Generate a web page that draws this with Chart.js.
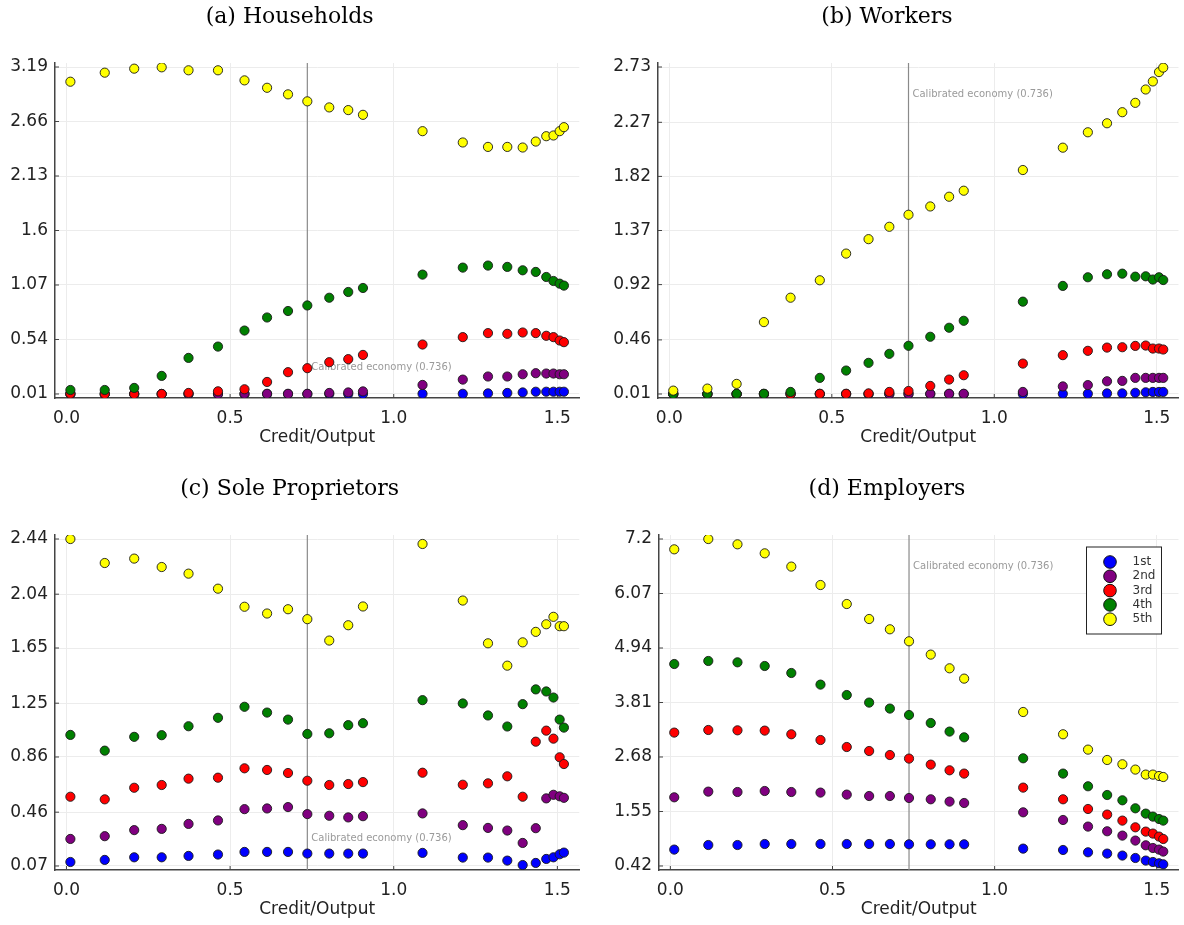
<!DOCTYPE html>
<html>
<head>
<meta charset="utf-8">
<title>Credit/Output by quintile</title>
<script src="https://cdn.jsdelivr.net/npm/chart.js"></script>
<style>
  html, body { margin: 0; padding: 0; background: #fff; overflow: hidden; }
  .panel { position: absolute; width: 592px; height: 462px; }
</style>
</head>
<body>
<div class="panel" style="left:0;top:0"><canvas id="hh" width="592" height="462"></canvas></div>
<div class="panel" style="left:592px;top:0"><canvas id="wk" width="592" height="462"></canvas></div>
<div class="panel" style="left:0;top:472px"><canvas id="sp" width="592" height="462"></canvas></div>
<div class="panel" style="left:592px;top:472px"><canvas id="em" width="592" height="462"></canvas></div>
<script>
// shared x values (credit/output ratio of each simulated economy)
const creditOutput = [0.012, 0.117, 0.207, 0.291, 0.373, 0.463, 0.544, 0.613, 0.677, 0.736, 0.803, 0.861, 0.906,
    1.088, 1.211, 1.288, 1.347, 1.394, 1.434, 1.466, 1.488, 1.507, 1.520];
const quintiles = ['1st', '2nd', '3rd', '4th', '5th'];
const colors = ['#0000ff', '#800080', '#ff0000', '#008000', '#ffff00'];
const calibrated = 0.736;
const xTicks = [0, 0.5, 1.0, 1.5];

// (a) Households
const hh1 = [0.010, 0.010, 0.010, 0.010, 0.010, 0.010, 0.010, 0.010, 0.010, 0.010, 0.010, 0.010, 0.010,
    0.012, 0.012, 0.016, 0.020, 0.025, 0.032, 0.032, 0.032, 0.032, 0.032];
const hh2 = [0.010, 0.010, 0.010, 0.010, 0.010, 0.010, 0.012, 0.012, 0.012, 0.012, 0.020, 0.025, 0.035,
    0.098, 0.150, 0.180, 0.180, 0.202, 0.212, 0.209, 0.209, 0.202, 0.202];
const hh3 = [0.013, 0.010, 0.010, 0.010, 0.020, 0.036, 0.056, 0.127, 0.222, 0.261, 0.319, 0.349, 0.390,
    0.491, 0.563, 0.602, 0.595, 0.608, 0.602, 0.576, 0.563, 0.530, 0.514];
const hh4 = [0.049, 0.049, 0.069, 0.186, 0.361, 0.471, 0.627, 0.754, 0.817, 0.871, 0.946, 1.002, 1.041,
    1.171, 1.239, 1.259, 1.246, 1.213, 1.197, 1.148, 1.109, 1.083, 1.064];
const hh5 = [3.047, 3.135, 3.174, 3.187, 3.158, 3.158, 3.060, 2.988, 2.924, 2.856, 2.797, 2.771, 2.725,
    2.566, 2.456, 2.413, 2.413, 2.407, 2.465, 2.517, 2.524, 2.566, 2.605];
const hhTicks = [0.01, 0.54, 1.07, 1.6, 2.13, 2.66, 3.19];

// (b) Workers
const wk1 = [0.010, 0.010, 0.010, 0.010, 0.010, 0.010, 0.010, 0.010, 0.010, 0.010, 0.010, 0.010, 0.010,
    0.010, 0.012, 0.012, 0.015, 0.015, 0.020, 0.024, 0.027, 0.027, 0.027];
const wk2 = [0.010, 0.010, 0.010, 0.010, 0.010, 0.010, 0.010, 0.010, 0.010, 0.012, 0.012, 0.012, 0.012,
    0.027, 0.073, 0.084, 0.116, 0.119, 0.144, 0.144, 0.144, 0.144, 0.144];
const wk3 = [0.010, 0.010, 0.010, 0.010, 0.010, 0.012, 0.012, 0.015, 0.027, 0.035, 0.077, 0.130, 0.166,
    0.263, 0.333, 0.369, 0.396, 0.399, 0.410, 0.413, 0.388, 0.388, 0.380];
const wk4 = [0.010, 0.012, 0.012, 0.012, 0.027, 0.144, 0.205, 0.269, 0.344, 0.411, 0.486, 0.561, 0.619,
    0.778, 0.909, 0.981, 1.006, 1.011, 0.986, 0.989, 0.962, 0.981, 0.958];
const wk5 = [0.038, 0.055, 0.094, 0.608, 0.811, 0.956, 1.178, 1.298, 1.401, 1.501, 1.570, 1.651, 1.701,
    1.873, 2.059, 2.187, 2.262, 2.354, 2.432, 2.543, 2.610, 2.688, 2.725];
const wkTicks = [0.01, 0.46, 0.92, 1.37, 1.82, 2.27, 2.73];

// (c) Sole Proprietors
const sp1 = [0.099, 0.114, 0.133, 0.133, 0.143, 0.153, 0.172, 0.172, 0.172, 0.160, 0.160, 0.160, 0.160,
    0.165, 0.131, 0.131, 0.109, 0.077, 0.092, 0.121, 0.133, 0.155, 0.167];
const sp2 = [0.266, 0.286, 0.330, 0.339, 0.375, 0.400, 0.482, 0.487, 0.497, 0.446, 0.434, 0.422, 0.431,
    0.451, 0.366, 0.346, 0.327, 0.237, 0.344, 0.560, 0.586, 0.575, 0.564];
const sp3 = [0.572, 0.553, 0.637, 0.657, 0.703, 0.710, 0.778, 0.766, 0.744, 0.688, 0.657, 0.664, 0.678,
    0.746, 0.659, 0.669, 0.720, 0.572, 0.971, 1.051, 0.993, 0.858, 0.809];
const sp4 = [1.020, 0.906, 1.006, 1.018, 1.083, 1.144, 1.224, 1.182, 1.131, 1.027, 1.032, 1.091, 1.105,
    1.272, 1.248, 1.161, 1.081, 1.243, 1.350, 1.335, 1.291, 1.131, 1.073];
const sp5 = [2.440, 2.266, 2.298, 2.237, 2.189, 2.080, 1.949, 1.900, 1.931, 1.859, 1.704, 1.815, 1.951,
    2.404, 1.994, 1.684, 1.522, 1.691, 1.767, 1.822, 1.876, 1.808, 1.808];
const spTicks = [0.07, 0.46, 0.86, 1.25, 1.65, 2.04, 2.44];

// (d) Employers
const em1 = [0.760, 0.855, 0.855, 0.876, 0.876, 0.876, 0.876, 0.876, 0.876, 0.870, 0.870, 0.870, 0.870,
    0.780, 0.752, 0.704, 0.677, 0.636, 0.586, 0.532, 0.503, 0.476, 0.455];
const em2 = [1.844, 1.962, 1.954, 1.975, 1.954, 1.942, 1.900, 1.871, 1.871, 1.830, 1.803, 1.755, 1.726,
    1.533, 1.374, 1.237, 1.140, 1.050, 0.947, 0.849, 0.793, 0.760, 0.719];
const em3 = [3.186, 3.240, 3.233, 3.227, 3.151, 3.032, 2.887, 2.804, 2.721, 2.647, 2.522, 2.404, 2.336,
    2.045, 1.803, 1.602, 1.486, 1.361, 1.222, 1.133, 1.092, 1.030, 0.980];
const em4 = [4.608, 4.671, 4.643, 4.567, 4.422, 4.181, 3.965, 3.808, 3.684, 3.551, 3.385, 3.207, 3.088,
    2.653, 2.336, 2.073, 1.892, 1.782, 1.616, 1.506, 1.444, 1.394, 1.361];
const em5 = [6.986, 7.200, 7.090, 6.903, 6.628, 6.246, 5.852, 5.541, 5.328, 5.079, 4.803, 4.519, 4.305,
    3.613, 3.151, 2.833, 2.618, 2.529, 2.419, 2.315, 2.315, 2.286, 2.265];
const emTicks = [0.42, 1.55, 2.68, 3.81, 4.94, 6.07, 7.2];

const tickFont = { family: 'DejaVu Sans', size: 17 };
const textColor = '#222';

// vertical marker for the calibrated economy + its label
const calibLine = {
    id: 'calibLine',
    beforeDatasetsDraw(chart, args, opts) {
        const { ctx, chartArea, scales } = chart;
        const x = scales.x.getPixelForValue(calibrated);
        ctx.save();
        ctx.strokeStyle = '#8a8a8a';
        ctx.lineWidth = 1.2;
        ctx.beginPath();
        ctx.moveTo(x, chartArea.top);
        ctx.lineTo(x, chartArea.bottom);
        ctx.stroke();
        ctx.fillStyle = '#9a9a9a';
        ctx.font = '10px "DejaVu Sans"';
        ctx.textAlign = 'left';
        ctx.textBaseline = 'middle';
        ctx.fillText('Calibrated economy (' + calibrated + ')', x + 4, scales.y.getPixelForValue(opts.noteY));

        // small inward tick marks
        ctx.strokeStyle = '#444';
        ctx.lineWidth = 1;
        ctx.beginPath();
        scales.x.ticks.forEach(t => {
            const px = scales.x.getPixelForValue(t.value);
            ctx.moveTo(px, chartArea.bottom);
            ctx.lineTo(px, chartArea.bottom - 4);
        });
        scales.y.ticks.forEach(t => {
            const py = scales.y.getPixelForValue(t.value);
            ctx.moveTo(chartArea.left, py);
            ctx.lineTo(chartArea.left + 4, py);
        });
        ctx.stroke();
        ctx.restore();
    }
};

// boxed legend inside the plot (only used on panel d)
const boxLegend = {
    id: 'boxLegend',
    afterDraw(chart, args, opts) {
        if (!opts.show) return;
        const { ctx, chartArea } = chart;
        const w = 75, h = 87;
        const left = chartArea.right - 17 - w;
        const top = chartArea.top + 12;
        ctx.save();
        ctx.fillStyle = '#fff';
        ctx.fillRect(left, top, w, h);
        ctx.strokeStyle = '#222';
        ctx.lineWidth = 1;
        ctx.strokeRect(left, top, w, h);
        ctx.font = '12px "DejaVu Sans"';
        ctx.textBaseline = 'middle';
        ctx.textAlign = 'left';
        quintiles.forEach((q, i) => {
            const y = top + 15 + i * 14.3;
            ctx.beginPath();
            ctx.arc(left + 23.5, y, 6.3, 0, Math.PI * 2);
            ctx.fillStyle = colors[i];
            ctx.fill();
            ctx.strokeStyle = '#111';
            ctx.stroke();
            ctx.fillStyle = '#333';
            ctx.fillText(q, left + 46, y);
        });
        ctx.restore();
    }
};

function makePanel(id, title, series, yTicks, cfg) {
    const lo = yTicks[0], hi = yTicks[yTicks.length - 1];
    const pad = (hi - lo) * 4 / 326;
    const datasets = series.map((vals, i) => ({
        label: quintiles[i],
        data: creditOutput.map((x, j) => ({ x: x, y: vals[j] })),
        backgroundColor: colors[i],
        borderColor: '#1a1a1a',
        borderWidth: 0.9,
        pointRadius: 4.6,
        order: 5 - i
    }));

    new Chart(document.getElementById(id), {
        type: 'scatter',
        data: { datasets: datasets },
        options: {
            responsive: false,
            animation: false,
            layout: { padding: { left: 0, right: cfg.padRight, top: 0, bottom: 0 } },
            plugins: {
                legend: { display: false },
                tooltip: { enabled: false },
                title: {
                    display: true,
                    text: title,
                    color: '#000',
                    font: { family: 'DejaVu Serif', size: 22, weight: 'normal' },
                    padding: { top: 4, bottom: 32.6 }
                },
                calibLine: { noteY: cfg.noteY },
                boxLegend: { show: !!cfg.legend }
            },
            scales: {
                x: {
                    type: 'linear',
                    min: -0.035,
                    max: 1.567,
                    afterBuildTicks: s => { s.ticks = xTicks.map(v => ({ value: v })); },
                    afterFit: s => { s.height = 64; },
                    ticks: {
                        callback: v => v.toFixed(1),
                        font: tickFont,
                        color: textColor,
                        padding: 10,
                        maxRotation: 0,
                        autoSkip: false
                    },
                    grid: { color: '#ececec', drawTicks: false },
                    border: { color: '#444', width: 1.5 },
                    title: {
                        display: true,
                        text: 'Credit/Output',
                        color: textColor,
                        font: { family: 'DejaVu Sans', size: 17 },
                        padding: { top: 0, bottom: 13.8 }
                    }
                },
                y: {
                    min: lo - pad,
                    max: hi + pad,
                    afterBuildTicks: s => { s.ticks = yTicks.map(v => ({ value: v })); },
                    afterFit: s => { s.width = cfg.yWidth; },
                    ticks: {
                        callback: v => String(v),
                        font: tickFont,
                        color: textColor,
                        padding: 7,
                        autoSkip: false
                    },
                    grid: { color: '#ececec', drawTicks: false },
                    border: { color: '#444', width: 1.5 }
                }
            }
        },
        plugins: [calibLine, boxLegend]
    });
}

makePanel('hh', '(a) Households', [hh1, hh2, hh3, hh4, hh5], hhTicks, { yWidth: 55, padRight: 12.7, noteY: 0.27 });
makePanel('wk', '(b) Workers', [wk1, wk2, wk3, wk4, wk5], wkTicks, { yWidth: 66, padRight: 2, noteY: 2.50 });
makePanel('sp', '(c) Sole Proprietors', [sp1, sp2, sp3, sp4, sp5], spTicks, { yWidth: 55, padRight: 12.7, noteY: 0.27 });
makePanel('em', '(d) Employers', [em1, em2, em3, em4, em5], emTicks, { yWidth: 67, padRight: 2, noteY: 6.64, legend: true });
</script>
</body>
</html>
